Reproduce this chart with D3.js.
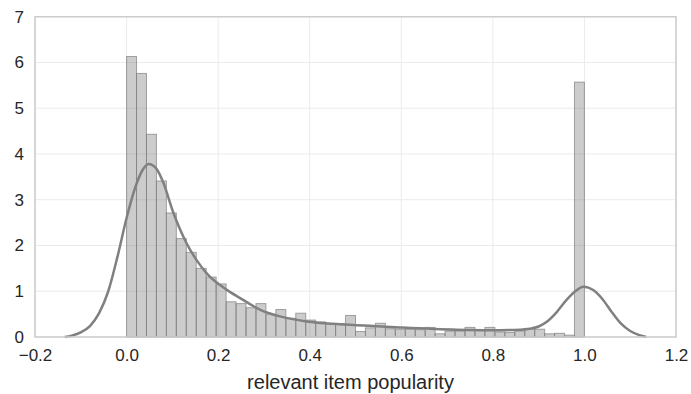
<!DOCTYPE html>
<html>
<head>
<meta charset="utf-8">
<script src="https://cdn.jsdelivr.net/npm/d3@7"></script>
<style>
  body { margin: 0; background: #fff; }
  text { font-family: "Liberation Sans", Arial, sans-serif; fill: #262626; }
</style>
</head>
<body>
<div class="chart"></div>
<script>
// histogram: 46 equal bins covering 0..1, density values
var binStart = 0;
var binEnd = 1;
var binDensity = [
  6.13, 5.76, 4.43, 3.41, 2.71, 2.15, 1.85, 1.50, 1.31, 1.16,
  0.77, 0.73, 0.64, 0.73, 0.50, 0.60, 0.41, 0.52, 0.37, 0.33,
  0.29, 0.29, 0.47, 0.12, 0.20, 0.30, 0.18, 0.17, 0.17, 0.16,
  0.21, 0.07, 0.13, 0.13, 0.21, 0.15, 0.21, 0.11, 0.10, 0.13,
  0.17, 0.17, 0.07, 0.08, 0.04, 5.57
];

// kde curve, sampled by eye
var kdeX = [-0.135, -0.12, -0.10, -0.08, -0.06, -0.04, -0.02, 0.00, 0.02, 0.035,
  0.048, 0.065, 0.080, 0.102, 0.131, 0.153, 0.175, 0.219, 0.248, 0.291, 0.335,
  0.393, 0.466, 0.539, 0.597, 0.721, 0.794, 0.86, 0.88, 0.90, 0.92, 0.94, 0.96,
  0.98, 0.998, 1.02, 1.04, 1.06, 1.08, 1.10, 1.12, 1.135];
var kdeY = [0.00, 0.03, 0.10, 0.24, 0.52, 1.00, 1.75, 2.60, 3.30, 3.65,
  3.78, 3.68, 3.38, 2.72, 2.05, 1.68, 1.39, 1.03, 0.85, 0.60, 0.45,
  0.34, 0.28, 0.24, 0.21, 0.16, 0.15, 0.16, 0.18, 0.23, 0.35, 0.55, 0.80,
  1.00, 1.10, 1.02, 0.82, 0.54, 0.29, 0.13, 0.04, 0.00];

var xTicks = [-0.2, 0.0, 0.2, 0.4, 0.6, 0.8, 1.0, 1.2];
var yTicks = [0, 1, 2, 3, 4, 5, 6, 7];
var xLabel = "relevant item popularity";

var svgWidth = 691;
var svgHeight = 394;
var margin = { top: 16.7, right: 15, bottom: 57, left: 35 };
var width = svgWidth - margin.left - margin.right;
var height = svgHeight - margin.top - margin.bottom;

var svg = d3.select(".chart")
  .append("svg")
  .attr("width", svgWidth)
  .attr("height", svgHeight)
  .style("display", "block");

var chartGroup = svg.append("g")
  .attr("transform", `translate(${margin.left}, ${margin.top})`);

var xScale = d3.scaleLinear().domain([-0.2, 1.2]).range([0, width]);
var yScale = d3.scaleLinear().domain([0, 7]).range([height, 0]);

// grid
chartGroup.append("g")
  .selectAll("line")
  .data(xTicks)
  .enter()
  .append("line")
  .attr("x1", d => xScale(d))
  .attr("x2", d => xScale(d))
  .attr("y1", 0)
  .attr("y2", height)
  .attr("stroke", "#ebebeb")
  .attr("stroke-width", 1);

chartGroup.append("g")
  .selectAll("line")
  .data(yTicks)
  .enter()
  .append("line")
  .attr("x1", 0)
  .attr("x2", width)
  .attr("y1", d => yScale(d))
  .attr("y2", d => yScale(d))
  .attr("stroke", "#ebebeb")
  .attr("stroke-width", 1);

// bars
var binW = (binEnd - binStart) / binDensity.length;
chartGroup.append("g")
  .selectAll("rect")
  .data(binDensity)
  .enter()
  .append("rect")
  .attr("x", (d, i) => xScale(binStart + i * binW))
  .attr("y", d => yScale(d))
  .attr("width", (d, i) => xScale(binStart + (i + 1) * binW) - xScale(binStart + i * binW))
  .attr("height", d => height - yScale(d))
  .attr("fill", "#808080")
  .attr("fill-opacity", 0.4)
  .attr("stroke", "#808080")
  .attr("stroke-opacity", 0.7)
  .attr("stroke-width", 1);

// kde line
var kdePts = kdeX.map((x, i) => [x, kdeY[i]]);
var line = d3.line()
  .x(d => xScale(d[0]))
  .y(d => yScale(d[1]))
  .curve(d3.curveMonotoneX);

chartGroup.append("path")
  .datum(kdePts)
  .attr("d", line)
  .attr("fill", "none")
  .attr("stroke", "#808080")
  .attr("stroke-width", 2.5);

// frame
chartGroup.append("rect")
  .attr("x", 0)
  .attr("y", 0)
  .attr("width", width)
  .attr("height", height)
  .attr("fill", "none")
  .attr("stroke", "#cccccc")
  .attr("stroke-width", 1.5);

// x axis
var bottomAxis = d3.axisBottom(xScale)
  .tickValues(xTicks)
  .tickSize(0)
  .tickPadding(12)
  .tickFormat(d => d3.format(".1f")(d).replace("-", "\u2212"));

var xAxis = chartGroup.append("g")
  .attr("transform", `translate(0, ${height})`)
  .call(bottomAxis);
xAxis.select(".domain").remove();
xAxis.selectAll("text")
  .style("font-family", "'Liberation Sans', Arial, sans-serif")
  .style("font-size", "17px")
  .attr("fill", "#262626");

// y tick labels
chartGroup.append("g")
  .selectAll("text")
  .data(yTicks)
  .enter()
  .append("text")
  .attr("x", -11)
  .attr("y", d => yScale(d))
  .attr("dy", "0.35em")
  .attr("text-anchor", "end")
  .style("font-size", "17px")
  .text(d => String(d));

chartGroup.append("text")
  .attr("x", width / 2 - 5)
  .attr("y", height + 52)
  .attr("text-anchor", "middle")
  .style("font-size", "20px")
  .text(xLabel);
</script>
</body>
</html>
